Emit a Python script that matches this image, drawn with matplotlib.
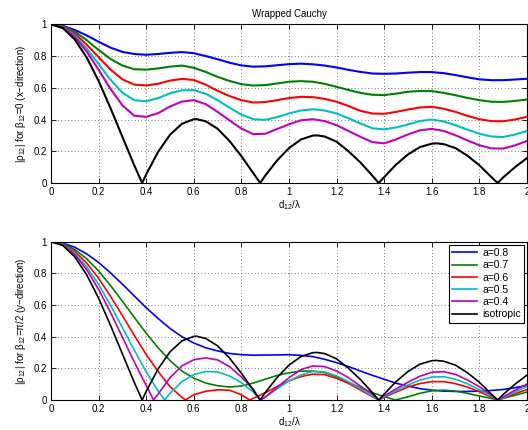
import matplotlib
matplotlib.use('Agg')
import matplotlib.pyplot as plt
from matplotlib.ticker import FuncFormatter

plt.rcParams['font.family'] = ['Liberation Sans', 'DejaVu Sans']
plt.rcParams['mathtext.fontset'] = 'custom'
plt.rcParams['mathtext.rm'] = 'Liberation Sans'
plt.rcParams['mathtext.it'] = 'Liberation Sans:italic'

# d12 / lambda grid used for the smooth curves
d_top = [0.00, 0.05, 0.10, 0.15, 0.20, 0.25, 0.30, 0.35, 0.40, 0.45,
         0.50, 0.55, 0.60, 0.65, 0.70, 0.75, 0.80, 0.85, 0.90, 0.95,
         1.00, 1.05, 1.10, 1.15, 1.20, 1.25, 1.30, 1.35, 1.40, 1.45,
         1.50, 1.55, 1.60, 1.65, 1.70, 1.75, 1.80, 1.85, 1.90, 1.95, 2.00]

labels = ['a=0.8', 'a=0.7', 'a=0.6', 'a=0.5', 'a=0.4', 'isotropic']
colors = ['#0000ff', '#008000', '#ff0000', '#00bfbf', '#bf00bf', '#000000']

# top panel: beta12 = 0 (x-direction)
top_a08 = [1.000, 0.990, 0.964, 0.930, 0.890, 0.853, 0.826, 0.813, 0.808, 0.813,
           0.820, 0.825, 0.818, 0.800, 0.780, 0.758, 0.741, 0.733, 0.735, 0.742,
           0.749, 0.752, 0.748, 0.740, 0.728, 0.713, 0.700, 0.690, 0.688, 0.690,
           0.695, 0.699, 0.699, 0.692, 0.680, 0.666, 0.653, 0.648, 0.648, 0.652, 0.657]
top_a07 = [1.000, 0.988, 0.952, 0.900, 0.838, 0.782, 0.740, 0.717, 0.714, 0.722,
           0.733, 0.740, 0.726, 0.700, 0.669, 0.643, 0.623, 0.614, 0.617, 0.627,
           0.638, 0.642, 0.638, 0.625, 0.606, 0.586, 0.568, 0.556, 0.554, 0.563,
           0.575, 0.580, 0.579, 0.568, 0.553, 0.536, 0.522, 0.512, 0.511, 0.517, 0.526]
top_a06 = [1.000, 0.984, 0.940, 0.872, 0.793, 0.715, 0.653, 0.620, 0.615, 0.625,
           0.645, 0.656, 0.649, 0.620, 0.581, 0.548, 0.522, 0.507, 0.510, 0.522,
           0.535, 0.543, 0.541, 0.530, 0.512, 0.485, 0.455, 0.438, 0.436, 0.448,
           0.463, 0.476, 0.480, 0.468, 0.448, 0.423, 0.402, 0.390, 0.389, 0.400, 0.417]
top_a05 = [1.000, 0.982, 0.929, 0.848, 0.750, 0.651, 0.569, 0.522, 0.515, 0.535,
           0.565, 0.584, 0.585, 0.562, 0.522, 0.475, 0.431, 0.402, 0.398, 0.415,
           0.438, 0.457, 0.465, 0.457, 0.438, 0.408, 0.375, 0.345, 0.338, 0.350,
           0.369, 0.390, 0.400, 0.388, 0.364, 0.336, 0.311, 0.293, 0.290, 0.305, 0.328]
top_a04 = [1.000, 0.980, 0.920, 0.828, 0.714, 0.593, 0.489, 0.424, 0.417, 0.440,
           0.482, 0.513, 0.522, 0.497, 0.448, 0.395, 0.343, 0.308, 0.310, 0.340,
           0.370, 0.395, 0.402, 0.390, 0.364, 0.328, 0.291, 0.258, 0.250, 0.275,
           0.306, 0.332, 0.341, 0.328, 0.301, 0.268, 0.238, 0.218, 0.217, 0.237, 0.265]

# isotropic |J0| (same in both panels), with its zeros and peaks
d_iso = [0.00, 0.05, 0.10, 0.15, 0.20, 0.25, 0.30, 0.35, 0.383, 0.40,
         0.45, 0.50, 0.55, 0.60, 0.61, 0.65, 0.70, 0.75, 0.80, 0.85, 0.879,
         0.90, 0.95, 1.00, 1.05, 1.10, 1.12, 1.15, 1.20, 1.25, 1.30, 1.35,
         1.377, 1.40, 1.45, 1.50, 1.55, 1.60, 1.62, 1.65, 1.70, 1.75, 1.80,
         1.85, 1.877, 1.90, 1.95, 2.00]
iso = [1.000, 0.976, 0.904, 0.791, 0.643, 0.472, 0.291, 0.111, 0.000, 0.055,
       0.196, 0.304, 0.373, 0.402, 0.403, 0.389, 0.342, 0.265, 0.169, 0.062, 0.000,
       0.046, 0.142, 0.220, 0.274, 0.299, 0.300, 0.293, 0.260, 0.200, 0.130, 0.047,
       0.000, 0.037, 0.116, 0.180, 0.226, 0.248, 0.250, 0.245, 0.220, 0.172, 0.112,
       0.038, 0.000, 0.035, 0.100, 0.157]

# bottom panel: beta12 = pi/2 (y-direction)
bot_a08 = [1.000, 0.991, 0.965, 0.923, 0.869, 0.803, 0.732, 0.657, 0.583, 0.515,
           0.452, 0.400, 0.360, 0.330, 0.310, 0.294, 0.286, 0.283, 0.284, 0.285,
           0.286, 0.282, 0.274, 0.257, 0.236, 0.211, 0.183, 0.156, 0.131, 0.106,
           0.088, 0.072, 0.062, 0.056, 0.054, 0.054, 0.056, 0.060, 0.066, 0.078, 0.092]

d_a07 = [0.00, 0.05, 0.10, 0.15, 0.20, 0.25, 0.30, 0.35, 0.40, 0.45,
         0.50, 0.55, 0.60, 0.65, 0.70, 0.75, 0.80, 0.85, 0.90, 0.95,
         1.00, 1.05, 1.10, 1.15, 1.20, 1.25, 1.30, 1.35, 1.40, 1.447,
         1.50, 1.55, 1.60, 1.65, 1.70, 1.75, 1.80, 1.85, 1.877, 1.90, 1.95, 2.00]
bot_a07 = [1.000, 0.988, 0.951, 0.892, 0.815, 0.723, 0.624, 0.522, 0.422, 0.330,
           0.249, 0.183, 0.138, 0.107, 0.090, 0.082, 0.088, 0.107, 0.131, 0.155,
           0.172, 0.182, 0.183, 0.173, 0.147, 0.112, 0.078, 0.046, 0.022, 0.000,
           0.020, 0.042, 0.058, 0.062, 0.056, 0.042, 0.025, 0.010, 0.000, 0.010, 0.030, 0.050]

d_a06 = [0.00, 0.05, 0.10, 0.15, 0.20, 0.25, 0.30, 0.35, 0.40, 0.45,
         0.50, 0.55, 0.565, 0.60, 0.65, 0.70, 0.75, 0.80, 0.835, 0.85,
         0.90, 0.95, 1.00, 1.05, 1.10, 1.15, 1.20, 1.25, 1.30, 1.35,
         1.377, 1.40, 1.45, 1.50, 1.55, 1.60, 1.65, 1.70, 1.75, 1.80,
         1.85, 1.877, 1.90, 1.95, 2.00]
bot_a06 = [1.000, 0.984, 0.939, 0.865, 0.769, 0.655, 0.533, 0.408, 0.288, 0.180,
           0.085, 0.017, 0.000, 0.033, 0.055, 0.064, 0.062, 0.033, 0.000, 0.011,
           0.045, 0.085, 0.120, 0.148, 0.163, 0.160, 0.137, 0.105, 0.063, 0.021,
           0.000, 0.017, 0.050, 0.082, 0.104, 0.116, 0.116, 0.103, 0.082, 0.052,
           0.019, 0.000, 0.012, 0.040, 0.066]

d_a05 = [0.00, 0.05, 0.10, 0.15, 0.20, 0.25, 0.30, 0.35, 0.40, 0.45,
         0.478, 0.50, 0.55, 0.60, 0.65, 0.70, 0.75, 0.80, 0.85, 0.88,
         0.90, 0.95, 1.00, 1.05, 1.10, 1.15, 1.20, 1.25, 1.30, 1.35,
         1.377, 1.40, 1.45, 1.50, 1.55, 1.60, 1.65, 1.70, 1.75, 1.80,
         1.85, 1.877, 1.90, 1.95, 2.00]
bot_a05 = [1.000, 0.982, 0.928, 0.842, 0.730, 0.599, 0.458, 0.315, 0.178, 0.058,
           0.000, 0.042, 0.116, 0.160, 0.180, 0.177, 0.152, 0.109, 0.050, 0.000,
           0.017, 0.070, 0.120, 0.157, 0.180, 0.177, 0.152, 0.116, 0.072, 0.026,
           0.000, 0.020, 0.058, 0.095, 0.125, 0.145, 0.147, 0.131, 0.102, 0.065,
           0.024, 0.000, 0.014, 0.050, 0.085]

d_a04 = [0.00, 0.05, 0.10, 0.15, 0.20, 0.25, 0.30, 0.35, 0.40, 0.431,
         0.45, 0.50, 0.55, 0.60, 0.65, 0.70, 0.75, 0.80, 0.85, 0.878,
         0.90, 0.95, 1.00, 1.05, 1.10, 1.15, 1.20, 1.25, 1.30, 1.35,
         1.377, 1.40, 1.45, 1.50, 1.55, 1.60, 1.65, 1.70, 1.75, 1.80,
         1.85, 1.877, 1.90, 1.95, 2.00]
bot_a04 = [1.000, 0.979, 0.919, 0.823, 0.699, 0.553, 0.397, 0.240, 0.092, 0.000,
           0.037, 0.141, 0.215, 0.254, 0.266, 0.253, 0.211, 0.145, 0.068, 0.000,
           0.018, 0.080, 0.140, 0.192, 0.215, 0.211, 0.183, 0.141, 0.088, 0.036,
           0.000, 0.026, 0.070, 0.112, 0.150, 0.175, 0.179, 0.162, 0.126, 0.084,
           0.031, 0.000, 0.020, 0.062, 0.100]

top_series = [(d_top, top_a08), (d_top, top_a07), (d_top, top_a06),
              (d_top, top_a05), (d_top, top_a04), (d_iso, iso)]
bot_series = [(d_top, bot_a08), (d_a07, bot_a07), (d_a06, bot_a06),
              (d_a05, bot_a05), (d_a04, bot_a04), (d_iso, iso)]


def style_axes(ax):
    ax.set_xlim(0, 2)
    ax.set_ylim(0, 1)
    ax.set_xticks([0, 0.2, 0.4, 0.6, 0.8, 1.0, 1.2, 1.4, 1.6, 1.8, 2.0])
    ax.set_yticks([0, 0.2, 0.4, 0.6, 0.8, 1.0])
    fmt = FuncFormatter(lambda v, p: '%g' % round(v, 2))
    ax.xaxis.set_major_formatter(fmt)
    ax.yaxis.set_major_formatter(fmt)
    ax.tick_params(direction='in', top=True, right=True, length=3.5,
                   width=0.6, labelsize=7, pad=3)
    ax.grid(True, linestyle=(0, (1, 3)), color='0.3', linewidth=0.6)
    for s in ax.spines.values():
        s.set_linewidth(0.8)
    ax.set_xlabel('d$_{12}$/λ', fontsize=7, labelpad=1)


fig = plt.figure(figsize=(5.28, 4.30), dpi=100)
ax1 = fig.add_axes([0.0966, 0.5744, 0.9014, 0.3691])
ax2 = fig.add_axes([0.0966, 0.0698, 0.9014, 0.3681])

for (x, y), c, lab in zip(top_series, colors, labels):
    ax1.plot(x, y, color=c, linewidth=1.5, label=lab)
for (x, y), c, lab in zip(bot_series, colors, labels):
    ax2.plot(x, y, color=c, linewidth=1.2, label=lab)

style_axes(ax1)
style_axes(ax2)
ax1.set_title('Wrapped Cauchy', fontsize=7, pad=5)
ax1.set_ylabel('|ρ$_{12}$| for β$_{12}$=0 (x−direction)', fontsize=7, labelpad=4)
ax2.set_ylabel('|ρ$_{12}$| for β$_{12}$=π/2 (y−direction)', fontsize=7, labelpad=4)

leg = ax2.legend(loc='upper right', fontsize=7.5, frameon=True, fancybox=False,
                 edgecolor='black', framealpha=1, handlelength=2.4,
                 borderpad=0.3, labelspacing=0.22, handletextpad=0.5,
                 borderaxespad=0.3)
leg.get_frame().set_linewidth(0.8)

fig.savefig('out.png', dpi=100)
